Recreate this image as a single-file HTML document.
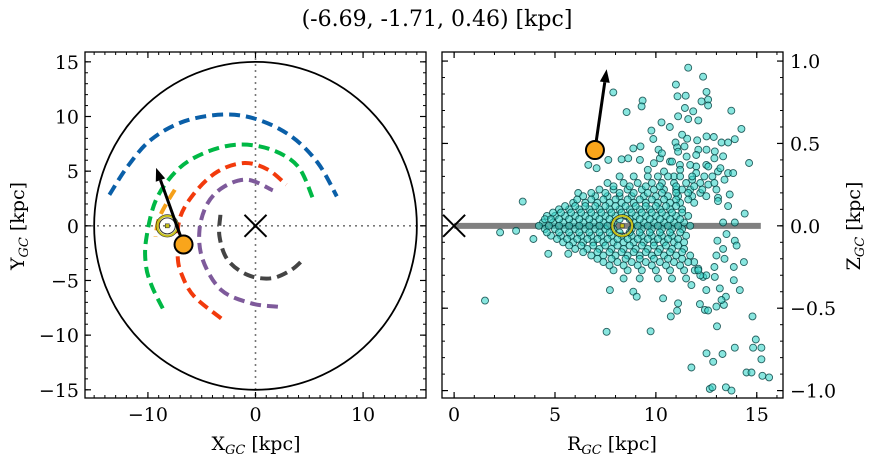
<!DOCTYPE html>
<html><head><meta charset="utf-8">
<style>
html,body{margin:0;padding:0;background:#fff;}
svg{display:block;font-family:"DejaVu Serif","Liberation Serif",serif;}
</style></head>
<body>
<svg id="c" width="874" height="464" viewBox="0 0 874 464"></svg>
<script>
// ---- data ----
const titleText = "(-6.69, -1.71, 0.46) [kpc]";
const starXY = [-6.69, -1.71];
const starArrowTip = [-9.24, 5.3];
const sunXY = [-8.2, 0];
const starRZ = [6.98, 0.46];
const starArrowTipRZ = [7.56, 0.95];
const sunRZ = [8.33, 0];
const leftXTicks = [-10, 0, 10];
const leftYTicks = [-15, -10, -5, 0, 5, 10, 15];
const rightXTicks = [0, 5, 10, 15];
const rightYTicks = [-1.0, -0.5, 0.0, 0.5, 1.0];
const orbitBlue = [[-13.58,2.84],[-11.88,5.44],[-9.70,7.89],[-6.60,9.57],[-2.88,10.18],[0.21,9.72],[3.32,8.19],[5.80,5.75],[7.56,2.69]];
const orbitGreen = [[-8.62,-7.55],[-9.6,-5.6],[-10.17,-3.73],[-10.17,-1.28],[-9.24,2.39],[-7.23,5.14],[-4.74,6.67],[-1.65,7.43],[1.46,6.97],[3.94,5.44],[5.33,2.54]];
const orbitRed = [[-3.19,-8.47],[-5.67,-6.49],[-6.8,-4.6],[-7.23,-2.82],[-7.07,0.55],[-5.67,3.0],[-3.50,4.98],[-1.02,5.75],[1.15,5.14],[2.86,3.76]];
const orbitPurple = [[2.08,-7.40],[-0.40,-7.09],[-3.19,-5.87],[-4.90,-3.12],[-5.21,-0.37],[-4.44,2.08],[-2.88,3.61],[-0.72,4.22],[1.61,3.24]];
const orbitGray = [[-3.26,1.01],[-3.35,-0.98],[-2.58,-3.12],[-0.72,-4.50],[1.46,-4.80],[3.32,-4.04],[4.56,-2.96]];
const orbitOrange = [[-7.5,3.3],[-8.3,2.0],[-9.0,0.6],[-9.3,-1.0]];
const coreZ = [0.30,0.26,0.22,0.18,0.14,0.10,0.06,0.02,-0.02,-0.06,-0.10,-0.14,-0.18,-0.22,-0.27,-0.32];
const coreR = [
 [8.2,8.9,9.6,10.1,10.6,11.2,11.8,12.4],
 [7.6,8.4,9.1,9.8,10.3,10.9,11.5,12.2,12.9],
 [7.2,7.9,8.6,9.3,9.9,10.4,11.0,11.7,12.3],
 [6.4,7.0,7.6,8.2,8.8,9.4,10.0,10.6,11.1,11.8,12.5],
 [5.9,6.5,7.1,7.7,8.3,8.9,9.5,10.1,10.7,11.2,11.9],
 [5.2,5.7,6.2,6.7,7.2,7.7,8.2,8.7,9.2,9.7,10.2,10.7,11.3],
 [4.6,5.0,5.5,6.0,6.5,7.0,7.5,8.0,8.5,9.0,9.5,10.0,10.5,11.0,11.6],
 [4.4,4.9,5.4,5.9,6.4,6.9,7.4,7.9,8.9,9.4,9.9,10.4,10.9,11.4],
 [4.5,5.0,5.5,6.0,6.5,7.0,7.5,7.9,8.8,9.3,9.8,10.3,10.8,11.3],
 [4.8,5.3,5.8,6.3,6.8,7.3,7.8,8.3,8.8,9.3,9.8,10.3,10.8,11.5],
 [5.4,5.9,6.4,6.9,7.4,7.9,8.4,8.9,9.4,9.9,10.4,10.9,11.4],
 [6.0,6.6,7.2,7.8,8.4,9.0,9.6,10.2,10.8,11.4],
 [6.8,7.4,8.0,8.6,9.2,9.8,10.4,11.0,11.7],
 [7.4,8.1,8.8,9.5,10.2,10.9,11.6],
 [7.9,8.6,9.3,10.0,10.7,11.4,12.1],
 [8.4,9.2,10.1,10.8,11.5]
];
const core2Z = [0.24,0.20,0.16,0.12,0.08,0.04,0.00,-0.04,-0.08,-0.12,-0.16,-0.20,-0.24];
const core2R = [
 [7.9,8.7,9.5,10.2,11.0,11.9],
 [6.8,7.5,8.2,8.9,9.6,10.3,11.0,11.6],
 [6.1,6.8,7.4,8.0,8.6,9.2,9.8,10.4,11.0,11.6],
 [5.5,6.0,6.5,7.0,7.5,8.0,8.5,9.0,9.5,10.0,10.5,11.0],
 [4.9,5.3,5.8,6.3,6.8,7.3,7.8,8.3,8.8,9.3,9.8,10.3,10.8,11.3],
 [4.5,4.8,5.2,5.7,6.2,6.7,7.2,7.7,8.2,8.7,9.2,9.7,10.2,10.7,11.2],
 [4.2,4.7,5.2,5.7,6.2,6.7,7.2,7.6,9.1,9.6,10.1,10.6,11.1,11.7],
 [4.6,5.2,5.7,6.2,6.7,7.2,7.7,8.2,8.7,9.2,9.7,10.2,10.7,11.2],
 [5.1,5.6,6.1,6.6,7.1,7.6,8.1,8.6,9.1,9.6,10.1,10.6,11.1],
 [5.7,6.3,6.9,7.5,8.1,8.7,9.3,9.9,10.5,11.1],
 [6.4,7.1,7.7,8.3,8.9,9.5,10.1,10.7,11.3],
 [7.1,7.8,8.5,9.2,9.9,10.6,11.3],
 [7.7,8.4,9.1,9.8,10.5,11.2]
];
const wedgeR = [9.6,10.4,11.2,12.0,12.8,13.4,9.9,10.8,11.7,12.6,13.2,10.3,11.1,12.0,12.9,10.9,11.8,12.6,11.3,12.2,13.0,12.2,12.9,13.4,14.0];
const wedgeZ = [0.34,0.33,0.34,0.32,0.30,0.28,0.38,0.39,0.37,0.36,0.35,0.44,0.45,0.43,0.41,0.30,0.28,0.25,0.22,0.20,0.22,-0.30,-0.25,-0.20,-0.12];
const outR = [11.6,12.34,7.89,10.99,11.07,11.48,12.51,9.34,9.29,8.55,11.44,11.85,12.26,12.59,12.59,13.74,10.28,11.1,11.6,12.1,9.78,10.69,11.3,11.55,12.05,14.24,9.87,10.13,9.24,8.88,10.97,11.05,11.42,12.51,12.87,13.25,13.58,13.91,12.1,12.51,12.92,13.33,14.62,6.65,7.06,7.64,8.3,8.63,9.21,10.2,10.7,11.19,11.52,12.0,12.5,13.08,13.58,13.83,1.53,7.56,9.74,2.28,3.07,3.93,3.4,6.15,4.67,5.66,7.72,8.88,9.05,10.36,10.74,11.05,11.1,11.76,11.93,12.34,12.5,12.92,12.18,12.43,12.59,13.0,13.37,13.47,13.17,13.25,13.86,13.86,14.16,14.36,14.79,14.95,14.82,13.03,12.51,12.84,13.3,13.91,15.23,15.23,14.49,14.74,15.28,15.61,11.76,12.67,12.8,13.47,13.75,13.91,14.4,13.33,13.08,13.58,13.66,13.08,13.91,13.5,13.05,13.33,13.0,12.1,12.5,11.9];
const outZ = [0.96,0.905,0.81,0.857,0.786,0.79,0.813,0.76,0.725,0.69,0.715,0.695,0.755,0.766,0.73,0.699,0.628,0.665,0.648,0.64,0.578,0.60,0.553,0.529,0.519,0.588,0.527,0.462,0.482,0.47,0.506,0.476,0.482,0.543,0.539,0.506,0.506,0.526,0.462,0.462,0.452,0.422,0.381,0.37,0.35,0.40,0.404,0.41,0.40,0.41,0.39,0.37,0.42,0.36,0.37,0.33,0.32,0.32,-0.454,-0.643,-0.64,-0.04,-0.03,-0.08,0.147,0.199,-0.17,-0.17,-0.39,-0.40,-0.43,-0.44,-0.55,-0.515,-0.47,-0.36,-0.27,-0.31,-0.39,-0.31,-0.475,-0.51,-0.514,-0.49,-0.48,-0.43,-0.38,-0.45,-0.25,-0.33,-0.39,-0.22,-0.55,-0.69,-0.74,-0.61,-0.774,-0.825,-0.778,-0.74,-0.74,-0.81,-0.89,-0.89,-0.91,-0.92,-0.86,-0.99,-0.98,-0.98,-1.0,0.02,0.074,0.02,0.17,0.12,0.19,0.15,-0.09,-0.05,-0.09,-0.14,-0.18,-0.26,-0.30,-0.22];

// ---- setup ----
const NS="http://www.w3.org/2000/svg";
const svg=document.getElementById('c');
function el(tag,attrs,parent){const e=document.createElementNS(NS,tag);for(const k in attrs)e.setAttribute(k,attrs[k]);(parent||svg).appendChild(e);return e;}
const L={x0:85,x1:426,y0:52,y1:398,xmin:-15.85,xmax:15.85,ymin:-15.75,ymax:15.9};
const R={x0:442,x1:783,y0:52,y1:398,xmin:-0.6,xmax:16.3,ymin:-1.045,ymax:1.055};
function sx(a,v){return a.x0+(v-a.xmin)/(a.xmax-a.xmin)*(a.x1-a.x0);}
function sy(a,v){return a.y1-(v-a.ymin)/(a.ymax-a.ymin)*(a.y1-a.y0);}

const title=el('text',{x:437,y:26,'text-anchor':'middle','font-size':22});
title.textContent=titleText;



const defs=el('defs',{});
const cpL=el('clipPath',{id:'cl'},defs);el('rect',{x:L.x0,y:L.y0,width:L.x1-L.x0,height:L.y1-L.y0},cpL);
const cpR=el('clipPath',{id:'cr'},defs);el('rect',{x:R.x0,y:R.y0,width:R.x1-R.x0,height:R.y1-R.y0},cpR);

// ---- left panel ----
const gL=el('g',{'clip-path':'url(#cl)'});


const ax0=el('line',{x1:L.x0,x2:L.x1,y1:sy(L,0),y2:sy(L,0),stroke:'#777','stroke-width':1.6,'stroke-dasharray':'2,4'},gL);


const ay0=el('line',{x1:sx(L,0),x2:sx(L,0),y1:L.y0,y2:L.y1,stroke:'#777','stroke-width':1.6,'stroke-dasharray':'2,4'},gL);


const bound=el('ellipse',{cx:sx(L,0),cy:sy(L,0),rx:sx(L,15)-sx(L,0),ry:sy(L,-15)-sy(L,0),fill:'none',stroke:'#000','stroke-width':1.8},gL);


function smoothPath(P){
  let d='M'+P[0][0].toFixed(1)+','+P[0][1].toFixed(1);
  for(let i=0;i<P.length-1;i++){
    const p0=P[Math.max(0,i-1)],p1=P[i],p2=P[i+1],p3=P[Math.min(P.length-1,i+2)];
    const c1=[p1[0]+(p2[0]-p0[0])/6,p1[1]+(p2[1]-p0[1])/6];
    const c2=[p2[0]-(p3[0]-p1[0])/6,p2[1]-(p3[1]-p1[1])/6];
    d+=` C${c1[0].toFixed(1)},${c1[1].toFixed(1)} ${c2[0].toFixed(1)},${c2[1].toFixed(1)} ${p2[0].toFixed(1)},${p2[1].toFixed(1)}`;
  }
  return d;
}
function orbit(pts,color,name){
  const P=pts.map(p=>[sx(L,p[0]),sy(L,p[1])]);
  const p=el('path',{d:smoothPath(P),fill:'none',stroke:color,'stroke-width':4,'stroke-dasharray':'11,6'},gL);
  
  
}
orbit(orbitBlue,'#0a5fa8','orbit-blue');
orbit(orbitGreen,'#00b845','orbit-green');
orbit(orbitRed,'#f23a0c','orbit-red');
orbit(orbitPurple,'#7e5a9b','orbit-purple');
orbit(orbitGray,'#444','orbit-gray');
orbit(orbitOrange,'#f5a01a','orbit-orange');
function xMark(g,cx,cy,name){
  const gg=el('g',{},g);
  
  
  el('line',{x1:cx-11,y1:cy-11,x2:cx+11,y2:cy+11,stroke:'#000','stroke-width':2},gg);
  el('line',{x1:cx-11,y1:cy+11,x2:cx+11,y2:cy-11,stroke:'#000','stroke-width':2},gg);
}
xMark(gL,sx(L,0),sy(L,0),'galactic-center-marker');
function sun(g,cx,cy,name){
  const gg=el('g',{},g);
  
  
  el('circle',{cx:cx,cy:cy,r:11,fill:'none',stroke:'#000','stroke-width':1.2,opacity:0.8},gg);
  el('circle',{cx:cx,cy:cy,r:10,fill:'none',stroke:'#c9c21a','stroke-width':2},gg);
  el('circle',{cx:cx,cy:cy,r:8,fill:'none',stroke:'#333','stroke-width':1},gg);
  el('rect',{x:cx-2,y:cy-2,width:4,height:4,fill:'#c9c21a',stroke:'#333','stroke-width':0.6},gg);
}
sun(gL,sx(L,sunXY[0]),sy(L,sunXY[1]),'sun-marker');
function arrow(g,x1,y1,x2,y2,name){
  const gg=el('g',{},g);
  
  
  const a=Math.atan2(y2-y1,x2-x1),h=13,w=5;
  const bx=x2-h*Math.cos(a),by=y2-h*Math.sin(a);
  el('line',{x1:x1,y1:y1,x2:bx,y2:by,stroke:'#000','stroke-width':3},gg);
  el('polygon',{points:`${x2},${y2} ${bx+w*Math.sin(a)},${by-w*Math.cos(a)} ${bx-w*Math.sin(a)},${by+w*Math.cos(a)}`,fill:'#000'},gg);
}
arrow(gL,sx(L,starXY[0]),sy(L,starXY[1]),sx(L,starArrowTip[0]),sy(L,starArrowTip[1]),'velocity-arrow-xy');
const st=el('circle',{cx:sx(L,starXY[0]),cy:sy(L,starXY[1]),r:9,fill:'#f9a51b',stroke:'#000','stroke-width':2},gL);



// ---- right panel ----
const gR=el('g',{'clip-path':'url(#cr)'});


const plane=el('line',{x1:sx(R,0),x2:sx(R,15.2),y1:sy(R,0),y2:sy(R,0),stroke:'#808080','stroke-width':6},gR);


xMark(gR,sx(R,0),sy(R,0),'galactic-center-marker-rz');
const gS=el('g',{},gR);


function pt(r,z){
  const c=el('circle',{cx:sx(R,r).toFixed(1),cy:sy(R,z).toFixed(1),r:3.5,fill:'rgba(56,214,202,0.6)',stroke:'rgba(0,60,60,0.8)','stroke-width':0.9},gS);
  
  
}
for(let i=0;i<outR.length;i++)pt(outR[i],outZ[i]);
for(let i=0;i<wedgeR.length;i++)pt(wedgeR[i],wedgeZ[i]);
for(let i=0;i<coreZ.length;i++)for(const r of coreR[i])pt(r,coreZ[i]);
for(let i=0;i<core2Z.length;i++)for(const r of core2R[i])pt(r,core2Z[i]);
sun(gR,sx(R,sunRZ[0]),sy(R,sunRZ[1]),'sun-marker-rz');
arrow(gR,sx(R,starRZ[0]),sy(R,starRZ[1]),sx(R,starArrowTipRZ[0]),sy(R,starArrowTipRZ[1]),'velocity-arrow-rz');
const st2=el('circle',{cx:sx(R,starRZ[0]),cy:sy(R,starRZ[1]),r:9,fill:'#f9a51b',stroke:'#000','stroke-width':2},gR);



// ---- axes frames and ticks ----
function frame(a,name){
  const r=el('rect',{x:a.x0,y:a.y0,width:a.x1-a.x0,height:a.y1-a.y0,fill:'none',stroke:'#000','stroke-width':1.3});
  
  
}
function ticksX(a,major,minorStep,fmt,name){
  const g=el('g',{});
  
  
  for(let v=Math.ceil(a.xmin/minorStep)*minorStep;v<=a.xmax;v+=minorStep){
    const x=sx(a,v);
    el('line',{x1:x,x2:x,y1:a.y1,y2:a.y1-3,stroke:'#000','stroke-width':1},g);
    el('line',{x1:x,x2:x,y1:a.y0,y2:a.y0+3,stroke:'#000','stroke-width':1},g);
  }
  for(const v of major){
    const x=sx(a,v);
    el('line',{x1:x,x2:x,y1:a.y1,y2:a.y1-6,stroke:'#000','stroke-width':1.2},g);
    el('line',{x1:x,x2:x,y1:a.y0,y2:a.y0+6,stroke:'#000','stroke-width':1.2},g);
    const t=el('text',{x:x,y:a.y1+23,'text-anchor':'middle','font-size':19},g);
    t.textContent=fmt(v);
  }
}
function ticksY(a,major,minorStep,fmt,side,name){
  const g=el('g',{});
  
  
  for(let v=Math.ceil(a.ymin/minorStep-1e-9)*minorStep;v<=a.ymax;v+=minorStep){
    const y=sy(a,v);
    el('line',{x1:a.x0,x2:a.x0+3,y1:y,y2:y,stroke:'#000','stroke-width':1},g);
    el('line',{x1:a.x1,x2:a.x1-3,y1:y,y2:y,stroke:'#000','stroke-width':1},g);
  }
  for(const v of major){
    const y=sy(a,v);
    el('line',{x1:a.x0,x2:a.x0+6,y1:y,y2:y,stroke:'#000','stroke-width':1.2},g);
    el('line',{x1:a.x1,x2:a.x1-6,y1:y,y2:y,stroke:'#000','stroke-width':1.2},g);
    const t=side==='left'?el('text',{x:a.x0-6,y:y+7,'text-anchor':'end','font-size':19},g)
                         :el('text',{x:a.x1+7,y:y+7,'text-anchor':'start','font-size':19},g);
    t.textContent=fmt(v);
  }
}
const minus=s=>s.replace('-','\u2212');
frame(L,'xy-axes-frame');frame(R,'rz-axes-frame');
ticksX(L,leftXTicks,1,v=>minus(String(v)),'xy-x-axis-ticks');
ticksY(L,leftYTicks,1,v=>minus(String(v)),'left','xy-y-axis-ticks');
ticksX(R,rightXTicks,1,v=>String(v),'rz-x-axis-ticks');
ticksY(R,rightYTicks,0.1,v=>minus(v.toFixed(1)),'right','rz-y-axis-ticks');

function label(x,y,main,sub,rot,name){
  const t=el('text',{x:x,y:y,'text-anchor':'middle','font-size':19});
  if(rot)t.setAttribute('transform',`rotate(-90 ${x} ${y})`);
  const a=el('tspan',{},t);a.textContent=main;
  const b=el('tspan',{'font-size':13,dy:4,'font-style':'italic'},t);b.textContent=sub;
  const c=el('tspan',{dy:-4},t);c.textContent=' [kpc]';
  
  
}
label(256,450,'X','GC',false,'xy-x-axis-title');
label(24,226,'Y','GC',true,'xy-y-axis-title');
label(612,450,'R','GC',false,'rz-x-axis-title');
label(860,226,'Z','GC',true,'rz-y-axis-title');
</script>
</body></html>
